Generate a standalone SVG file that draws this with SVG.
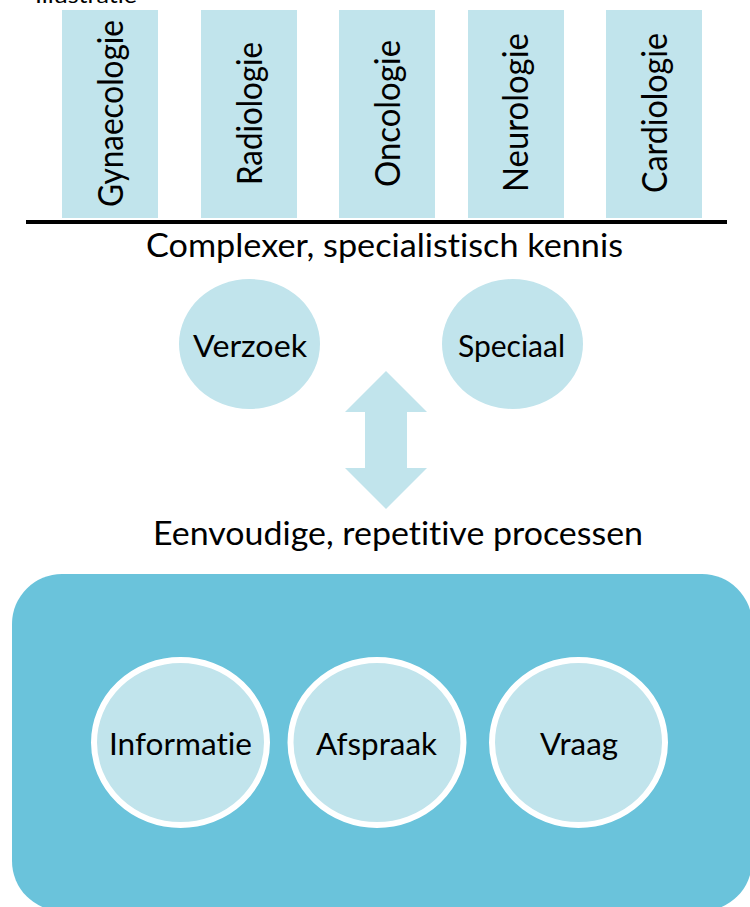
<svg xmlns="http://www.w3.org/2000/svg" width="750" height="907" viewBox="0 0 750 907">
<style>
text{font-family:Lato,"Open Sans","Liberation Sans",sans-serif;fill:#000;font-variant-ligatures:none;}
.box{fill:#C1E4EC;}
.vt{font-size:34px;text-anchor:middle;}
.hd{font-size:32px;}
.lb{font-size:31px;text-anchor:middle;}
.light{fill:#C1E4EC;}
.inner{fill:#C1E4EC;stroke:#fff;stroke-width:6;}
</style>
<rect width="750" height="907" fill="#fff"/>
<text x="35" y="3" style="font-size:22px" textLength="102" lengthAdjust="spacingAndGlyphs">Illustratie</text>
<g id="gynaecologie">
<rect class="box" x="62" y="10" width="96" height="208"/>
<text class="vt" transform="translate(123,113.5) rotate(-90)" textLength="187" lengthAdjust="spacingAndGlyphs">Gynaecologie</text>
</g>
<g id="radiologie">
<rect class="box" x="201" y="10" width="96" height="208"/>
<text class="vt" transform="translate(262,113.5) rotate(-90)" textLength="143" lengthAdjust="spacingAndGlyphs">Radiologie</text>
</g>
<g id="oncologie">
<rect class="box" x="339" y="10" width="96" height="208"/>
<text class="vt" transform="translate(400,113.5) rotate(-90)" textLength="147" lengthAdjust="spacingAndGlyphs">Oncologie</text>
</g>
<g id="neurologie">
<rect class="box" x="468" y="10" width="96" height="208"/>
<text class="vt" transform="translate(528,112.5) rotate(-90)" textLength="159" lengthAdjust="spacingAndGlyphs">Neurologie</text>
</g>
<g id="cardiologie">
<rect class="box" x="606" y="10" width="96" height="208"/>
<text class="vt" transform="translate(667,113) rotate(-90)" textLength="160" lengthAdjust="spacingAndGlyphs">Cardiologie</text>
</g>
<rect x="26" y="220" width="701" height="4" fill="#000"/>
<text class="hd" x="146" y="257" textLength="477" lengthAdjust="spacingAndGlyphs">Complexer, specialistisch kennis</text>
<g id="verzoek">
<ellipse class="light" cx="249.5" cy="344" rx="70.5" ry="65"/>
<text class="lb" x="250" y="357" textLength="114" lengthAdjust="spacingAndGlyphs">Verzoek</text>
</g>
<g id="speciaal">
<ellipse class="light" cx="512.5" cy="344" rx="70.5" ry="65"/>
<text class="lb" x="511.5" y="357" textLength="107" lengthAdjust="spacingAndGlyphs">Speciaal</text>
</g>
<g id="connectors">
<polygon fill="#C1E4EC" points="386,371 427,412 407,412 407,468 427,468 386,509 345,468 365,468 365,412 345,412"/>
</g>
<text class="hd" x="153" y="545" textLength="490" lengthAdjust="spacingAndGlyphs">Eenvoudige, repetitive processen</text>
<g id="processen">
<rect x="12" y="574" width="740" height="337" rx="50" ry="50" fill="#6AC3DB"/>
</g>
<g id="informatie">
<ellipse class="inner" cx="180.5" cy="742.5" rx="86.5" ry="82.5"/>
<text class="lb" x="180.5" y="755" textLength="143" lengthAdjust="spacingAndGlyphs">Informatie</text>
</g>
<g id="afspraak">
<ellipse class="inner" cx="377" cy="742.5" rx="86.5" ry="82.5"/>
<text class="lb" x="376.5" y="755" textLength="121" lengthAdjust="spacingAndGlyphs">Afspraak</text>
</g>
<g id="vraag">
<ellipse class="inner" cx="578.5" cy="742.5" rx="86.5" ry="82.5"/>
<text class="lb" x="579" y="755" textLength="78" lengthAdjust="spacingAndGlyphs">Vraag</text>
</g>
</svg>
